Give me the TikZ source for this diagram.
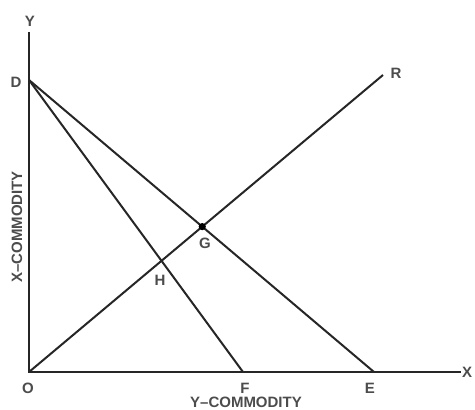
\documentclass[tikz,border=0pt]{standalone}
\usepackage{fontspec}
\setmainfont{Liberation Sans}
\usetikzlibrary{positioning,calc}

\begin{document}
\begin{tikzpicture}[
    x=1pt, y=1pt,
    font=\fontsize{15}{17}\selectfont\bfseries,
    curve/.style={line width=2pt, draw=black!85},
    lbl/.style={inner sep=1pt, text=black!70}
]
\useasboundingbox (0,0) rectangle (475,410);

\coordinate (O) at (29,38);
\coordinate (ytop) at (29,378);
\coordinate (xend) at (461,38);
\coordinate (D) at (29,330);
\coordinate (E) at (374,38);
\coordinate (F) at (243,38);
\coordinate (R) at (383,335);
\coordinate (G) at (intersection of D--E and O--R);
\coordinate (H) at (intersection of D--F and O--R);

\draw[curve] (ytop) -- (O) -- (xend);
\draw[curve] (D) -- (E);
\draw[curve] (D) -- (F);
\draw[curve] (O) -- (R);
\fill[black] (G) circle (3.6);

\node[lbl] (ylab) at (30,389) {Y};
\node[lbl, inner sep=0.5pt, right=0.5pt of xend] (xlab) {X};
\node[lbl] (dlab) at (16,328) {D};
\node[lbl] (rlab) at (396,337) {R};
\node[lbl] (glab) at (205,167) {G};
\node[lbl] (hlab) at (160,130) {H};
\node[lbl] (olab) at (28,22) {O};
\node[lbl] (flab) at (245,22) {F};
\node[lbl] (elab) at (370,22) {E};
\node[lbl] (ycom) at (246,8) {Y--COMMODITY};
\node[lbl, rotate=90] (xcom) at (17,183) {X--COMMODITY};

\end{tikzpicture}
\end{document}
